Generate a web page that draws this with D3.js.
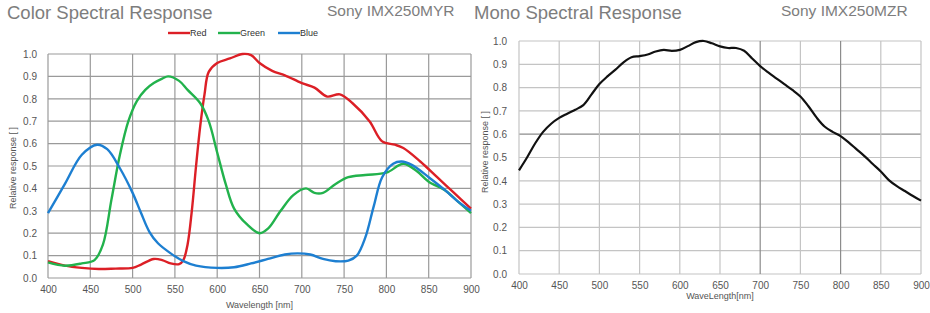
<!DOCTYPE html>
<html>
<head>
<meta charset="utf-8">
<script src="https://cdn.jsdelivr.net/npm/d3@7"></script>
<style>
  body { margin: 0; background: #fff; }
  svg { display: block; font-family: 'Liberation Sans', Arial, sans-serif; }
</style>
</head>
<body>
<script>
// Data
const X_TICKS = [400, 450, 500, 550, 600, 650, 700, 750, 800, 850, 900];
const Y_TICKS = [0, 0.1, 0.2, 0.3, 0.4, 0.5, 0.6, 0.7, 0.8, 0.9, 1.0];

const RED_WL  = [400, 420, 440, 460, 480, 500, 510, 525, 535, 545, 555, 560, 565, 570, 575, 580, 585, 590, 600, 615, 630, 640, 650, 665, 680, 700, 715, 730, 745, 760, 780, 795, 810, 820, 840, 860, 880, 900];
const RED_VAL = [0.075, 0.055, 0.045, 0.04, 0.042, 0.045, 0.06, 0.085, 0.08, 0.065, 0.062, 0.08, 0.15, 0.3, 0.5, 0.68, 0.82, 0.92, 0.96, 0.98, 1.0, 0.995, 0.96, 0.925, 0.905, 0.87, 0.85, 0.81, 0.82, 0.78, 0.7, 0.61, 0.595, 0.58, 0.52, 0.45, 0.38, 0.31];

const GREEN_WL  = [400, 420, 440, 455, 465, 475, 485, 495, 505, 515, 525, 535, 542, 555, 565, 580, 590, 600, 610, 620, 635, 650, 660, 675, 690, 705, 715, 725, 740, 755, 775, 800, 820, 835, 850, 870, 885, 900];
const GREEN_VAL = [0.07, 0.055, 0.065, 0.08, 0.15, 0.35, 0.55, 0.7, 0.79, 0.84, 0.87, 0.89, 0.9, 0.88, 0.84, 0.78, 0.7, 0.56, 0.42, 0.31, 0.24, 0.2, 0.22, 0.3, 0.37, 0.4, 0.38, 0.38, 0.42, 0.45, 0.46, 0.47, 0.51, 0.48, 0.43, 0.39, 0.34, 0.29];

const BLUE_WL  = [400, 420, 440, 458, 470, 485, 500, 510, 520, 530, 545, 560, 575, 600, 620, 640, 660, 680, 695, 710, 725, 740, 755, 765, 775, 785, 795, 808, 818, 830, 850, 870, 885, 900];
const BLUE_VAL = [0.29, 0.42, 0.55, 0.595, 0.575, 0.49, 0.38, 0.29, 0.205, 0.155, 0.11, 0.075, 0.055, 0.045, 0.048, 0.065, 0.085, 0.105, 0.11, 0.105, 0.085, 0.075, 0.078, 0.1, 0.18, 0.32, 0.45, 0.51, 0.52, 0.505, 0.45, 0.39, 0.34, 0.3];

const MONO_WL  = [400, 410, 420, 430, 440, 450, 460, 470, 480, 490, 500, 510, 520, 530, 540, 550, 560, 570, 580, 590, 600, 610, 620, 630, 640, 650, 660, 670, 680, 690, 700, 710, 720, 730, 740, 750, 760, 770, 780, 790, 800, 810, 820, 830, 840, 850, 860, 870, 880, 890, 900];
const MONO_VAL = [0.445, 0.5, 0.56, 0.61, 0.645, 0.67, 0.688, 0.705, 0.725, 0.77, 0.815, 0.848, 0.877, 0.908, 0.93, 0.935, 0.942, 0.955, 0.962, 0.958, 0.962, 0.978, 0.995, 1.0, 0.99, 0.977, 0.97, 0.97, 0.958, 0.925, 0.892, 0.865, 0.84, 0.815, 0.79, 0.762, 0.72, 0.672, 0.633, 0.61, 0.592, 0.565, 0.535, 0.505, 0.472, 0.44, 0.403, 0.377, 0.356, 0.335, 0.315];

const COLOR_SERIES = [
  { name: 'Red',   color: '#dc1f26', wl: RED_WL,   val: RED_VAL },
  { name: 'Green', color: '#22b24c', wl: GREEN_WL, val: GREEN_VAL },
  { name: 'Blue',  color: '#1d7fd1', wl: BLUE_WL,  val: BLUE_VAL }
];
const MONO_SERIES = [
  { name: 'Mono', color: '#111111', wl: MONO_WL, val: MONO_VAL }
];

// Colors
const TITLE = '#7d7d7d';
const LABEL = '#555555';

const svg = d3.select('body').append('svg')
  .attr('width', 930)
  .attr('height', 313);

svg.append('rect')
  .attr('width', 930)
  .attr('height', 313)
  .attr('fill', '#fff');

// One panel: grid, ticks, curves, titles
function panel(opt) {
  const x = d3.scaleLinear().domain([400, 900]).range([opt.left, opt.right]);
  const y = d3.scaleLinear().domain([0, 1]).range([opt.bottom, opt.top]);
  const g = svg.append('g');

  g.append('g')
    .selectAll('line')
    .data(Y_TICKS)
    .join('line')
    .attr('x1', opt.left).attr('x2', opt.right)
    .attr('y1', d => y(d)).attr('y2', d => y(d))
    .attr('stroke', d => opt.darkY.includes(d) ? opt.gridDark : opt.grid)
    .attr('stroke-width', 1.2);

  g.append('g')
    .selectAll('line')
    .data(X_TICKS)
    .join('line')
    .attr('x1', d => x(d)).attr('x2', d => x(d))
    .attr('y1', opt.top).attr('y2', opt.bottom)
    .attr('stroke', d => opt.darkX.includes(d) ? opt.gridDark : opt.grid)
    .attr('stroke-width', 1.2);

  // Axes (labels only)
  g.append('g')
    .attr('transform', `translate(0,${opt.bottom})`)
    .attr('font-size', '10px')
    .call(d3.axisBottom(x).tickValues(X_TICKS).tickFormat(d3.format('d')).tickSize(0).tickPadding(opt.xPad))
    .call(g => g.select('.domain').remove())
    .call(g => g.selectAll('text').attr('fill', LABEL).attr('font-family', "'Liberation Sans', Arial, sans-serif"));

  g.append('g')
    .attr('transform', `translate(${opt.left},0)`)
    .attr('font-size', '10px')
    .call(d3.axisLeft(y).tickValues(Y_TICKS).tickFormat(d3.format('.1f')).tickSize(0).tickPadding(opt.yPad))
    .call(g => g.select('.domain').remove())
    .call(g => g.selectAll('text').attr('fill', LABEL).attr('font-family', "'Liberation Sans', Arial, sans-serif"));

  const line = d3.line()
    .x(d => x(d[0]))
    .y(d => y(d[1]))
    .curve(d3.curveCatmullRom.alpha(0.5));

  g.append('g')
    .selectAll('path')
    .data(opt.series)
    .join('path')
    .attr('d', s => line(d3.zip(s.wl, s.val)))
    .attr('fill', 'none')
    .attr('stroke', s => s.color)
    .attr('stroke-width', opt.lineW)
    .attr('stroke-linejoin', 'round');

  // axis titles
  g.append('text')
    .attr('x', (opt.left + opt.right) / 2)
    .attr('y', opt.xTitleY)
    .attr('text-anchor', 'middle')
    .attr('font-size', '9px')
    .attr('fill', LABEL)
    .text(opt.xTitle);

  g.append('text')
    .attr('transform', `translate(${opt.yTitleX},${opt.yTitleY}) rotate(-90)`)
    .attr('text-anchor', 'middle')
    .attr('font-size', '9px')
    .attr('fill', LABEL)
    .text('Relative response [ ]');

  // titles
  svg.append('text')
    .attr('x', opt.titleX).attr('y', 19)
    .attr('font-size', '18.5px')
    .attr('fill', TITLE)
    .text(opt.title);

  svg.append('text')
    .attr('x', opt.sensorX).attr('y', 16)
    .attr('font-size', '15.5px')
    .attr('fill', TITLE)
    .text(opt.sensor);
}

panel({
  left: 48, right: 471, top: 54, bottom: 278,
  grid: '#9a9a9a', gridDark: '#9a9a9a', darkX: [], darkY: [],
  series: COLOR_SERIES, lineW: 2.4,
  xPad: 8, yPad: 11,
  xTitle: 'Wavelength [nm]', xTitleY: 308,
  yTitleX: 16, yTitleY: 168,
  title: 'Color Spectral Response', titleX: 7,
  sensor: 'Sony IMX250MYR', sensorX: 327
});

panel({
  left: 519, right: 921, top: 41, bottom: 274,
  grid: '#c4c4c4', gridDark: '#8c8c8c', darkX: [700, 800], darkY: [0.6],
  series: MONO_SERIES, lineW: 2.2,
  xPad: 8, yPad: 12,
  xTitle: 'WaveLength[nm]', xTitleY: 299,
  yTitleX: 488, yTitleY: 152,
  title: 'Mono Spectral Response', titleX: 474,
  sensor: 'Sony IMX250MZR', sensorX: 781
});

// Legend (color panel)
const legend = svg.append('g')
  .attr('font-size', '9px')
  .attr('fill', '#333');
const LEG_X = [168, 218, 278];
COLOR_SERIES.forEach((s, i) => {
  legend.append('line')
    .attr('x1', LEG_X[i]).attr('x2', LEG_X[i] + 22)
    .attr('y1', 33).attr('y2', 33)
    .attr('stroke', s.color).attr('stroke-width', 2.4);
  legend.append('text')
    .attr('x', LEG_X[i] + 22).attr('y', 36)
    .text(s.name);
});
</script>
</body>
</html>
